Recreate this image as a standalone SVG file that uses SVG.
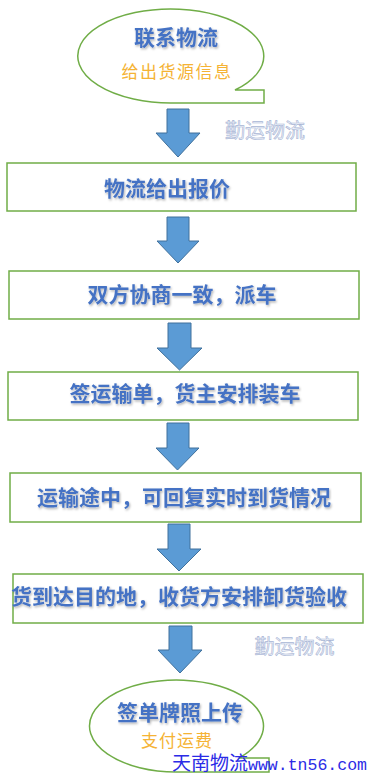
<svg xmlns="http://www.w3.org/2000/svg" width="372" height="783" viewBox="0 0 372 783">
<style>
.shape{fill:#fff;stroke:#70AD47;stroke-width:1.5}
.arrow{fill:#5B9BD5;stroke:#41719C;stroke-width:1}
.t{font-family:"Noto Sans CJK SC","Noto Sans",sans-serif;font-weight:bold;font-size:21px;fill:#4472C4;text-anchor:middle;filter:url(#sh)}
.s{font-family:"Noto Sans CJK SC","Noto Sans",sans-serif;font-size:17px;fill:#F5B335;text-anchor:middle}
.wm{font-family:"Noto Sans CJK SC",sans-serif;font-size:20px;fill:#EEF1F8;stroke:#A9B6D6;stroke-width:0.6;text-anchor:middle}
.site{fill:#2B2BE6}
</style>
<defs>
<filter id="sh" x="-10%" y="-30%" width="120%" height="160%">
<feDropShadow dx="1" dy="1.5" stdDeviation="0.8" flood-color="#000" flood-opacity="0.3"/>
</filter>
</defs>
<g id="node-start">
<path class="shape" d="M173,103 L264,103 L264,90 L235,90 A93,47 0 1 0 173,103 Z"/>
<text class="t" x="176" y="44.5">联系物流</text>
<text class="s" x="177" y="78" letter-spacing="1.5">给出货源信息</text>
</g>
<g id="node-quote">
<rect class="shape" x="7" y="163" width="349" height="48"/>
<text class="t" x="167" y="196">物流给出报价</text>
</g>
<g id="node-agree">
<rect class="shape" x="9" y="271" width="350" height="48"/>
<text class="t" x="182" y="302">双方协商一致，派车</text>
</g>
<g id="node-sign">
<rect class="shape" x="8" y="372" width="350" height="48"/>
<text class="t" x="185" y="401">签运输单，货主安排装车</text>
</g>
<g id="node-transit">
<rect class="shape" x="10" y="473" width="351" height="49"/>
<text class="t" x="184" y="504.5">运输途中，可回复实时到货情况</text>
</g>
<g id="node-arrive">
<rect class="shape" x="13" y="574" width="350" height="49"/>
<text class="t" x="179" y="604">货到达目的地，收货方安排卸货验收</text>
</g>
<g id="node-end">
<path class="shape" d="M176,772 L269,772 L269,758 L239,758 A87,46 0 1 0 176,772 Z"/>
<text class="t" x="180" y="720">签单牌照上传</text>
<text class="s" x="177" y="747" letter-spacing="1">支付运费</text>
</g>
<g id="connectors">
<path class="arrow" d="M167,109 H189 V133 H200 L178,157 L156,133 H167 Z"/>
<path class="arrow" d="M167,217 H189 V241 H199 L178,263 L157,241 H167 Z"/>
<path class="arrow" d="M168,323 H191 V348 H202 L179.5,370 L157,348 H168 Z"/>
<path class="arrow" d="M167,423 H189 V448 H199 L177.5,470 L156,448 H167 Z"/>
<path class="arrow" d="M168,524 H190 V549 H201 L179,571 L157,549 H168 Z"/>
<path class="arrow" d="M169,626 H192 V650 H202 L180,673 L158,650 H169 Z"/>
</g>
<text class="wm" x="265" y="138">勤运物流</text>
<text class="wm" x="294.5" y="654">勤运物流</text>
<text class="site" x="172" y="770" font-family="Noto Sans CJK SC,sans-serif" font-size="19px" textLength="76" lengthAdjust="spacingAndGlyphs">天南物流</text>
<text class="site" x="248" y="770" font-family="Liberation Mono,monospace" font-size="17px" textLength="119" lengthAdjust="spacingAndGlyphs">www.tn56.com</text>
</svg>
